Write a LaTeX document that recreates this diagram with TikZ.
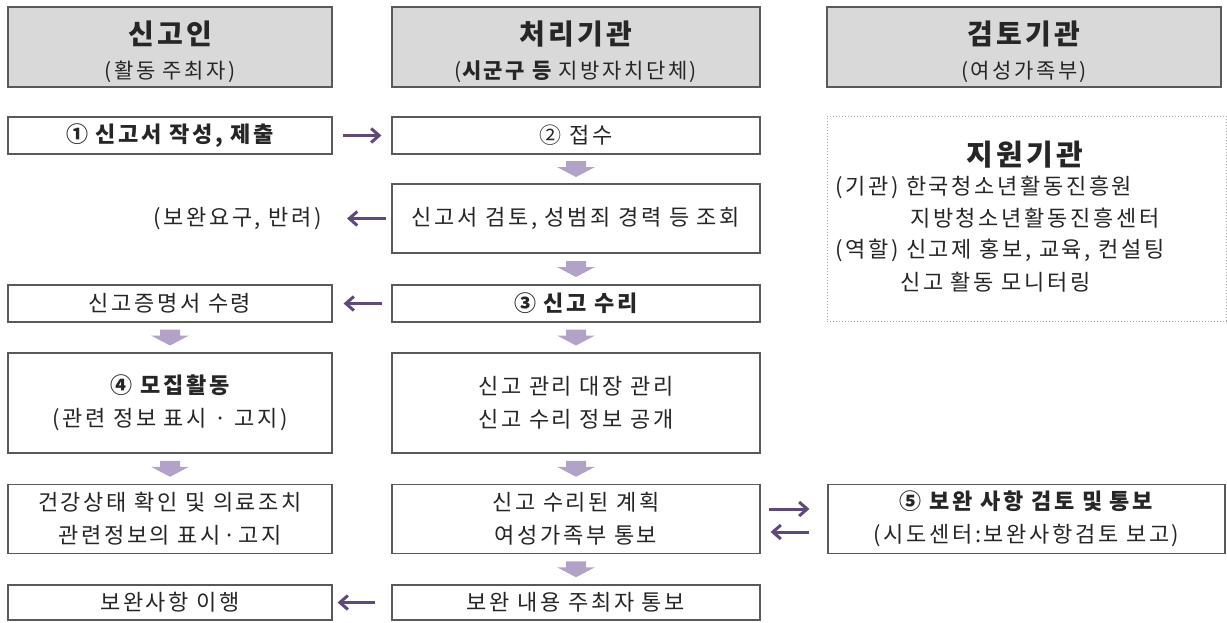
\documentclass[tikz,border=0pt]{standalone}
\usepackage{fontspec}
\setmainfont{Noto Sans CJK KR}[LetterSpace=12]
\usetikzlibrary{arrows.meta,calc}
\definecolor{hdrgray}{HTML}{D9D9D9}
\definecolor{edgec}{HTML}{595959}
\definecolor{lav}{HTML}{B3A2C7}
\definecolor{plum}{HTML}{5F497A}
\definecolor{txt}{HTML}{262626}
\newcommand\dnarrow[2]{%
  \fill[lav] let \p1=($(#1.south)!0.5!(#2.north)$) in
    (\x1-10pt,\y1+8pt) -- (\x1+10pt,\y1+8pt) -- (\x1+10pt,\y1+2pt) --
    (\x1+19pt,\y1+2pt) -- (\x1,\y1-8pt) -- (\x1-19pt,\y1+2pt) --
    (\x1-10pt,\y1+2pt) -- cycle;}
\newcommand\htit[1]{{\rule{0pt}{33pt}\fontsize{28}{33}\selectfont\bfseries #1}}
\begin{document}
\begin{tikzpicture}[x=1pt,y=-1pt,
  box/.style={draw=edgec, line width=1.2pt, inner sep=0pt, align=center,
    text=txt, font=\fontsize{22}{33}\selectfont},
  colA/.style={box, minimum width=324pt},
  colB/.style={box, minimum width=368pt},
  colC/.style={box, minimum width=397pt},
  hdr/.style={fill=hdrgray, minimum height=80pt, font=\fontsize{21}{34}\selectfont},
  harrow/.style={draw=plum, line width=3pt, -{Straight Barb[length=8pt,width=14pt]}},
  plain/.style={inner sep=0pt, text=txt, font=\fontsize{22}{33}\selectfont},
]
\useasboundingbox (0,0) rectangle (1227,622);
\fill[white] (0,0) rectangle (1227,622);

% headers
\node[colA, hdr] (h1) at (170,47) {\htit{신고인}\\(활동 주최자)};
\node[colB, hdr] (h2) at (576,47) {\htit{처리기관}\\({\bfseries 시군구 등} 지방자치단체)};
\node[box, minimum width=394pt, hdr] (h3) at (1024,47) {\htit{검토기관}\\(여성가족부)};

% column A
\node[colA, minimum height=37pt] (a1) at (170,135.5) {\bfseries ① 신고서 작성, 제출};
\node[plain, anchor=east] (rej) at (322,218.5) {(보완요구, 반려)};
\node[colA, minimum height=37pt] (a3) at (170,303.5) {신고증명서 수령};
\node[colA, minimum height=100pt] (a4) at (170,403) {{\bfseries ④ 모집활동}\\(관련 정보 표시 · 고지)};
\node[colA, minimum height=69pt] (a5) at (170,519) {건강상태 확인 및 의료조치\\관련정보의 표시·고지};
\node[colA, minimum height=35pt] (a6) at (170,602.5) {보완사항 이행};

% column B
\node[colB, minimum height=37pt] (b1) at (576,135.5) {② 접수};
\node[colB, minimum height=69pt] (b2) at (576,218.5) {신고서 검토, 성범죄 경력 등 조회};
\node[colB, minimum height=37pt] (b3) at (576,303.5) {\bfseries ③ 신고 수리};
\node[colB, minimum height=100pt] (b4) at (576,403) {신고 관리 대장 관리\\신고 수리 정보 공개};
\node[colB, minimum height=69pt] (b5) at (576,519) {신고 수리된 계획\\여성가족부 통보};
\node[colB, minimum height=35pt] (b6) at (576,602.5) {보완 내용 주최자 통보};

% column C
\node[colC, minimum height=69pt] (c5) at (1026.5,519) {{\bfseries ⑤ 보완 사항 검토 및 통보}\\(시도센터:보완사항검토 보고)};
\node[draw=gray!70, dotted, line width=1pt, minimum width=399pt, minimum height=205pt, inner sep=0pt] (sup) at (1026.5,218.5) {};
\node[plain, font=\fontsize{29}{34}\selectfont\bfseries] (supt) at (1025,155) {지원기관};
\node[plain, anchor=west] (s1) at (835,187) {(기관) 한국청소년활동진흥원};
\node[plain, anchor=west] (s2) at (910,218) {지방청소년활동진흥센터};
\node[plain, anchor=west] (s3) at (835,250) {(역할) 신고제 홍보, 교육, 컨설팅};
\node[plain, anchor=west] (s4) at (900,282) {신고 활동 모니터링};

% block arrows
\dnarrow{a3}{a4}
\dnarrow{a4}{a5}
\dnarrow{b1}{b2}
\dnarrow{b2}{b3}
\dnarrow{b3}{b4}
\dnarrow{b4}{b5}
\dnarrow{b5}{b6}

% horizontal arrows
\draw[harrow, shorten <=10pt, shorten >=10pt] (a1.east) -- (b1.west);
\draw[harrow, shorten <=5pt, shorten >=25pt] (b2.west) -- (b2.west -| rej.east);
\draw[harrow, shorten <=9pt, shorten >=11pt] (b3.west) -- (a3.east);
\draw[harrow, shorten <=8pt, shorten >=18pt] ([yshift=10pt]b5.east) -- ([yshift=10pt]b5.east -| c5.west);
\draw[harrow, shorten <=18pt, shorten >=10pt] ([yshift=-13pt]c5.west) -- ([yshift=-13pt]c5.west -| b5.east);
\draw[harrow, shorten <=16pt, shorten >=5pt] (b6.west) -- (a6.east);
\end{tikzpicture}
\end{document}
